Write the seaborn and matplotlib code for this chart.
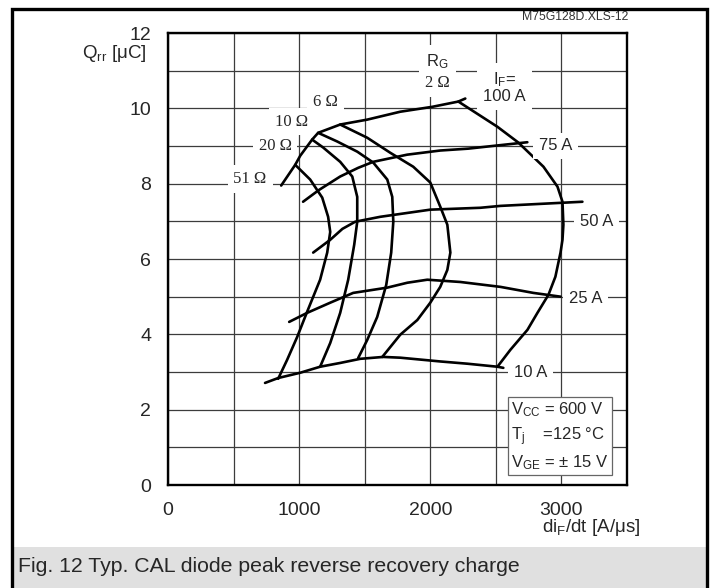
import numpy as np
import pandas as pd
import matplotlib
matplotlib.use("Agg")
import matplotlib.pyplot as plt
import seaborn as sns

# constant forward current curves (di/dt in A/us, Qrr in uC)
if100_x = [863, 970, 1008, 1099, 1145, 1313, 1519, 1771, 2015, 2214, 2267]
if100_y = [7.95, 8.50, 8.74, 9.17, 9.35, 9.57, 9.70, 9.91, 10.04, 10.18, 10.26]
if75_x = [1030, 1150, 1313, 1450, 1565, 1824, 2076, 2290, 2500, 2740]
if75_y = [7.52, 7.83, 8.19, 8.42, 8.58, 8.77, 8.88, 8.93, 9.01, 9.10]
if50_x = [1107, 1237, 1330, 1428, 1618, 2000, 2382, 2535, 3160]
if50_y = [6.17, 6.51, 6.80, 6.99, 7.12, 7.31, 7.36, 7.41, 7.52]
if25_x = [924, 1061, 1237, 1412, 1672, 1825, 1977, 2229, 2535, 2786, 2993]
if25_y = [4.33, 4.57, 4.84, 5.10, 5.24, 5.37, 5.45, 5.39, 5.26, 5.10, 5.00]
if10_x = [740, 840, 1008, 1160, 1313, 1466, 1641, 1771, 2076, 2283, 2512, 2557]
if10_y = [2.71, 2.84, 2.98, 3.14, 3.24, 3.35, 3.40, 3.38, 3.28, 3.22, 3.14, 3.11]

# constant gate resistor curves
rg51_x = [970, 1084, 1176, 1221, 1237, 1214, 1160, 1061, 985, 908, 840]
rg51_y = [8.50, 8.11, 7.63, 7.12, 6.72, 6.17, 5.45, 4.60, 3.93, 3.32, 2.82]
rg20_x = [1099, 1183, 1313, 1405, 1443, 1443, 1420, 1374, 1313, 1237, 1160]
rg20_y = [9.17, 8.96, 8.58, 8.19, 7.65, 6.99, 6.38, 5.45, 4.57, 3.77, 3.14]
rg10_x = [1145, 1290, 1443, 1565, 1672, 1710, 1718, 1702, 1664, 1595, 1519, 1450]
rg10_y = [9.35, 9.12, 8.85, 8.56, 8.11, 7.65, 6.99, 6.17, 5.31, 4.46, 3.85, 3.37]
rg6_x = [1313, 1519, 1695, 1870, 2000, 2076, 2130, 2153, 2130, 2076, 2000, 1901, 1771, 1634]
rg6_y = [9.57, 9.22, 8.82, 8.45, 8.03, 7.39, 6.91, 6.17, 5.71, 5.26, 4.84, 4.38, 3.99, 3.40]
rg2_x = [2214, 2512, 2672, 2863, 2970, 3008, 3015, 3008, 2993, 2954, 2901, 2817, 2741, 2611, 2512]
rg2_y = [10.18, 9.51, 9.09, 8.45, 7.92, 7.52, 6.91, 6.51, 6.17, 5.53, 5.05, 4.57, 4.12, 3.59, 3.14]

x_ticks = [0, 500, 1000, 1500, 2000, 2500, 3000, 3500]
x_ticklabels = ['0', '', '1000', '', '2000', '', '3000', '']
y_ticks = list(range(0, 13))
y_ticklabels = [str(v) if v % 2 == 0 else '' for v in y_ticks]

sns.set_style("white")
plt.rcParams['font.family'] = ['Liberation Sans', 'DejaVu Sans']
plt.rcParams['mathtext.default'] = 'regular'

fig = plt.figure(figsize=(7.17, 5.88), dpi=100)
ax = fig.add_axes([168/717, 1-485/588, (627-168)/717, (485-33)/588])

curves = [(if100_x, if100_y), (if75_x, if75_y), (if50_x, if50_y), (if25_x, if25_y), (if10_x, if10_y),
          (rg51_x, rg51_y), (rg20_x, rg20_y), (rg10_x, rg10_y), (rg6_x, rg6_y), (rg2_x, rg2_y)]
for cx, cy in curves:
    sns.lineplot(x=cx, y=cy, sort=False, estimator=None, color='black', lw=1.9, ax=ax, zorder=3)

ax.set_xlim(0, 3500)
ax.set_ylim(0, 12)
ax.set_xticks(x_ticks)
ax.set_xticklabels(x_ticklabels, fontsize=14)
ax.set_yticks(y_ticks)
ax.set_yticklabels(y_ticklabels, fontsize=14)
ax.tick_params(length=0)
ax.tick_params(axis='x', pad=12)
ax.tick_params(axis='y', pad=12)
ax.grid(True, color='#3c3c3c', lw=0.9)
ax.set_axisbelow(True)
for s in ax.spines.values():
    s.set_color('black')
    s.set_linewidth(1.7)
ax.set_xlabel('')
ax.set_ylabel('')

box = dict(facecolor='white', edgecolor='none', boxstyle='square,pad=0.35')
serif = ['Liberation Serif', 'DejaVu Serif']
ax.text(2054, 11.24, 'R$_G$', ha='center', va='center', fontsize=12, bbox=dict(facecolor='white', edgecolor='none', boxstyle='square,pad=0.45'))
ax.text(2054, 10.66, '2 Ω', ha='center', va='center', fontsize=12, family=serif, bbox=box)
ax.text(2565, 10.55, 'I$_F$=\n100 A', ha='center', va='center', fontsize=12, linespacing=1.0, bbox=box)
ax.text(1199, 10.18, '6 Ω', ha='center', va='center', fontsize=12, family=serif, bbox=box)
ax.text(939, 9.65, '10 Ω', ha='center', va='center', fontsize=12, family=serif, bbox=box)
ax.text(817, 9.01, '20 Ω', ha='center', va='center', fontsize=12, family=serif, bbox=box)
ax.text(626, 8.13, '51 Ω', ha='center', va='center', fontsize=12, family=serif, bbox=box)
ax.text(2954, 9.0, '75 A', ha='center', va='center', fontsize=12, bbox=box)
ax.text(3267, 7.0, '50 A', ha='center', va='center', fontsize=12, bbox=box)
ax.text(3183, 4.95, '25 A', ha='center', va='center', fontsize=12, bbox=box)
ax.text(2763, 2.98, '10 A', ha='center', va='center', fontsize=12, bbox=box)

ax.text(2615, 1.3, 'V$_{CC}$ = 600 V\nT$_j$    =125 °C\nV$_{GE}$ = ± 15 V', ha='left', va='center',
        fontsize=12, linespacing=1.4,
        bbox=dict(facecolor='white', edgecolor='#666666', lw=0.9, boxstyle='square,pad=0.2'))

fig.text(147/717, 1-53/588, 'Q$_{rr}$ [μC]', ha='right', va='center', fontsize=13.5)
fig.text(640/717, 1-528/588, 'di$_F$/dt [A/μs]', ha='right', va='center', fontsize=13.5)
fig.text(628/717, 1-17/588, 'M75G128D.XLS-12', ha='right', va='center', fontsize=8.8, color='#333333')

fig.add_artist(plt.Rectangle((13/717, 0), (706-13)/717, 41/588, transform=fig.transFigure,
                             facecolor='#e0e0e0', edgecolor='none', zorder=0))
fig.add_artist(plt.Rectangle((12/717, -0.02), (707-12)/717, 1-9/588+0.02, transform=fig.transFigure,
                             fill=False, edgecolor='black', lw=2.4, zorder=5))
fig.text(18/717, 1-566/588, 'Fig. 12 Typ. CAL diode peak reverse recovery charge', ha='left', va='center', fontsize=15.3)

fig.savefig('out.png', dpi=100)
